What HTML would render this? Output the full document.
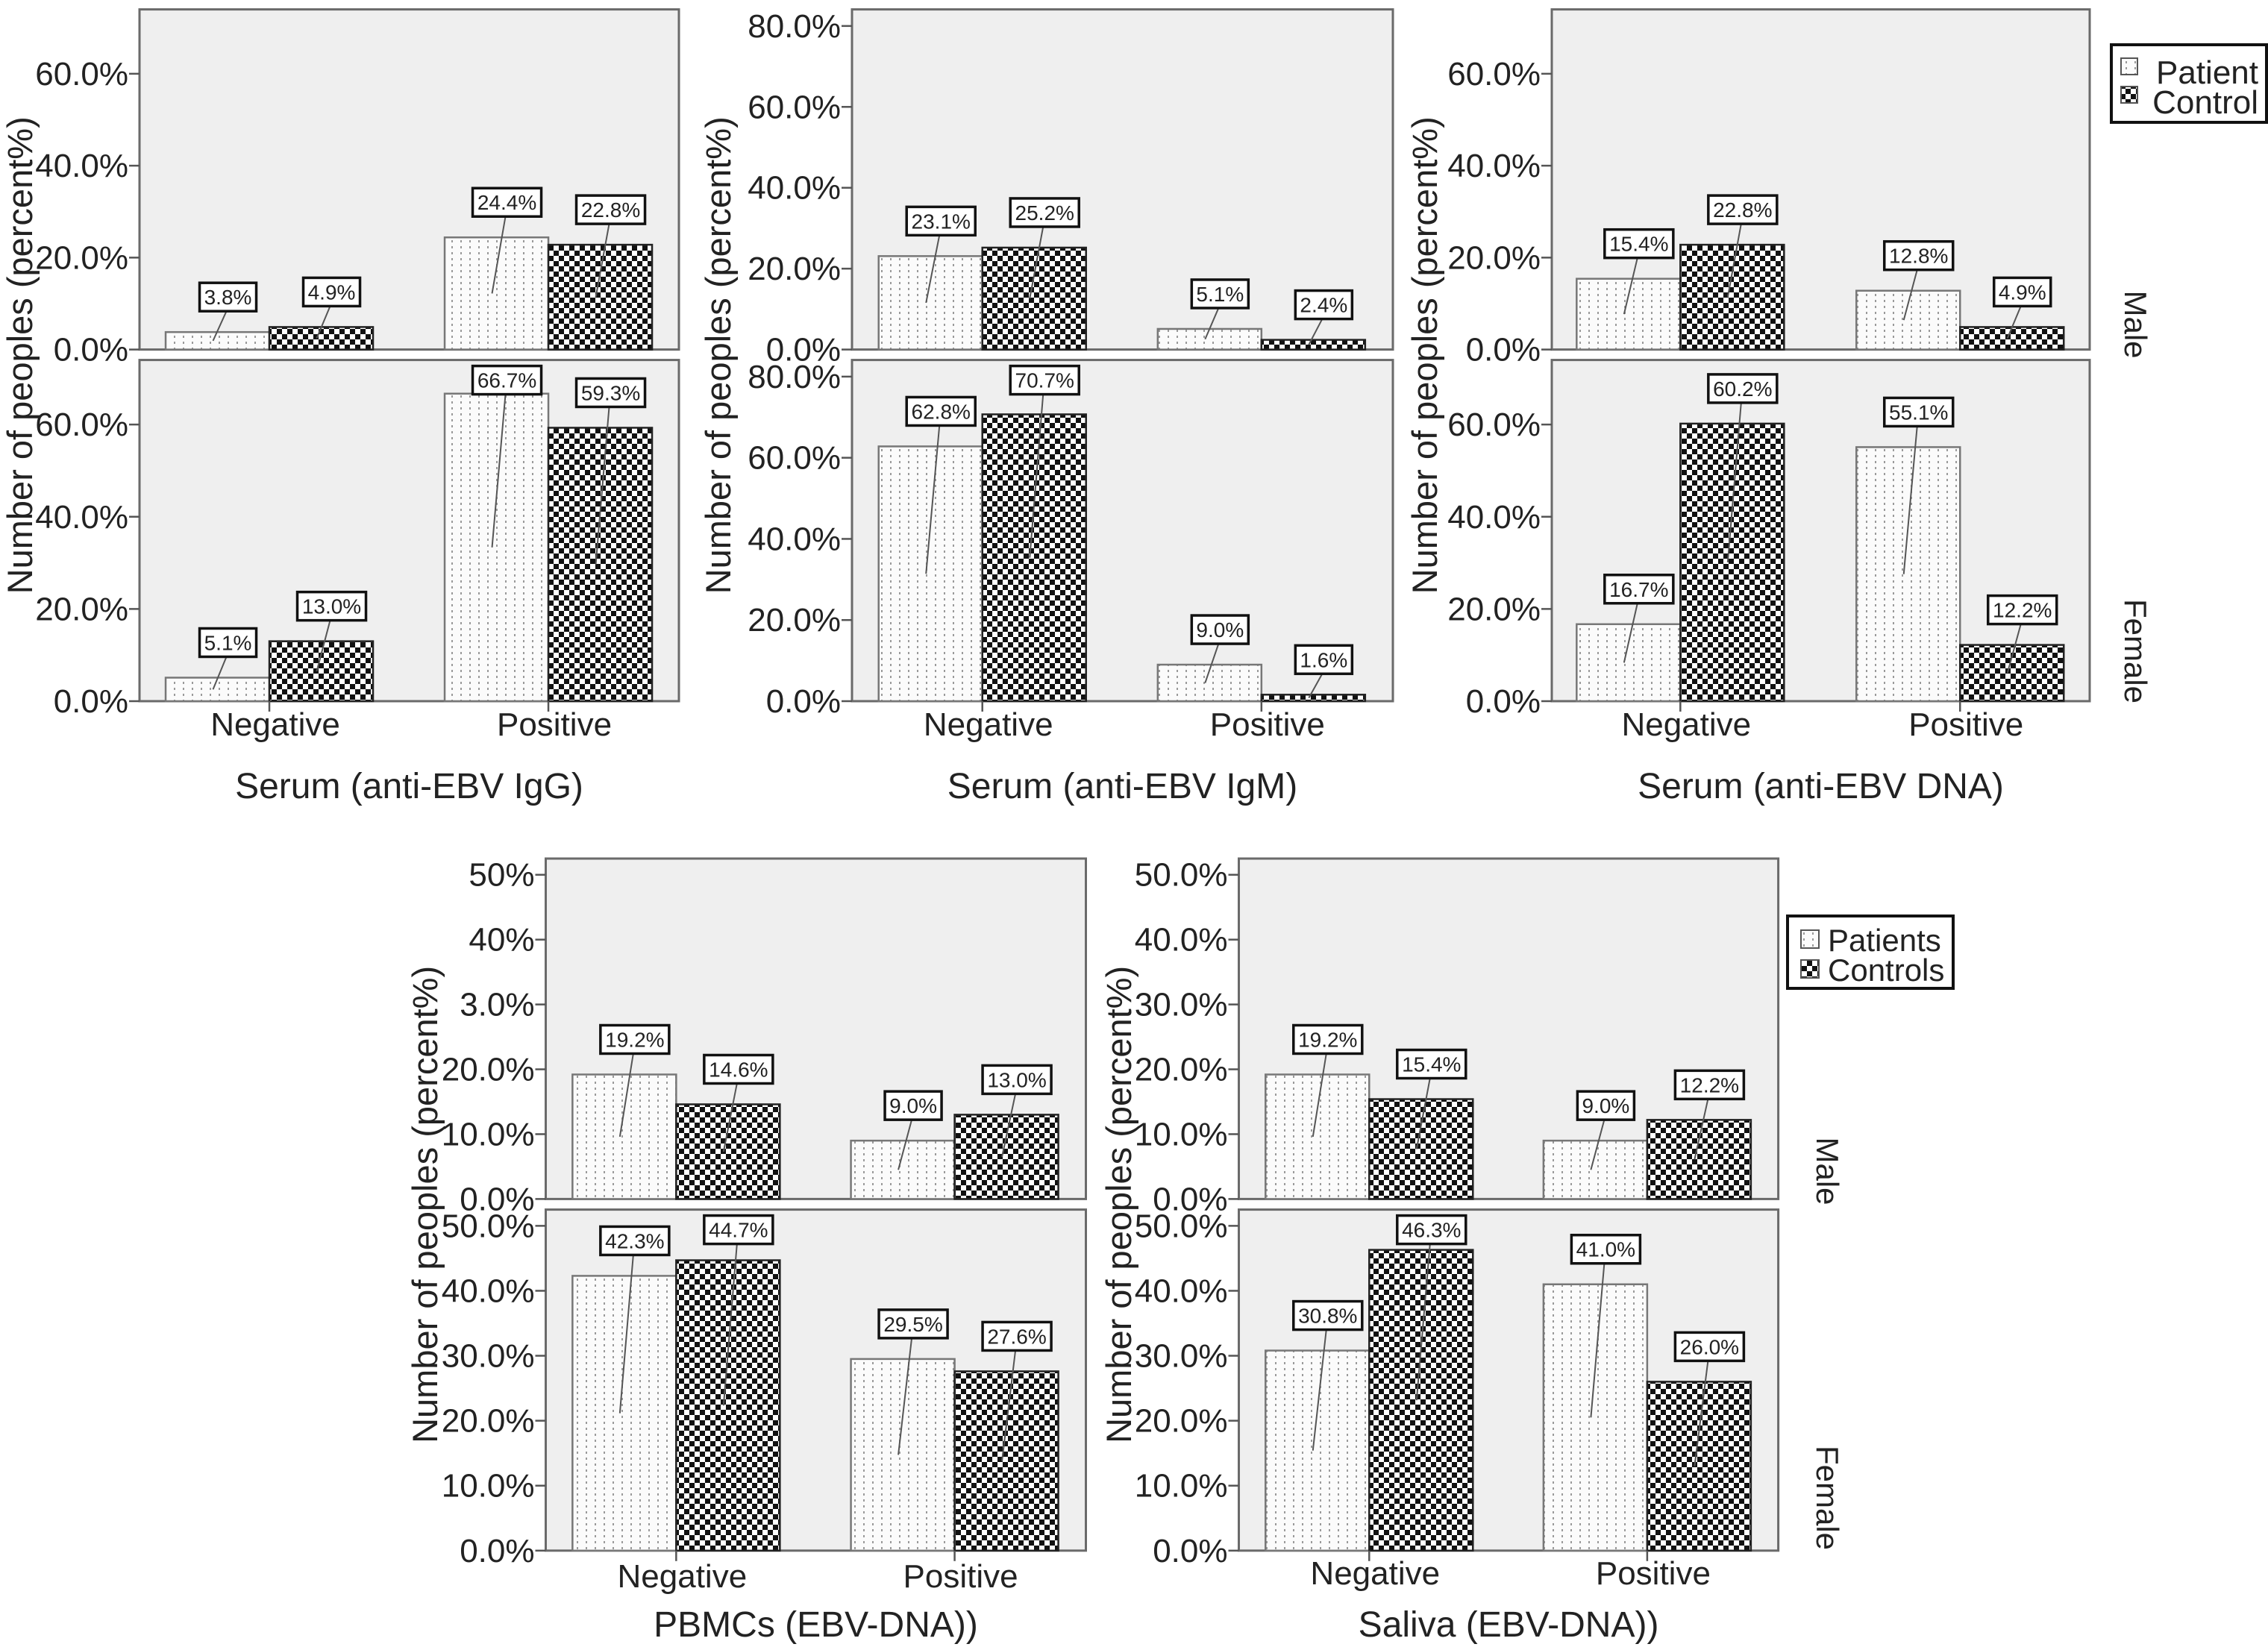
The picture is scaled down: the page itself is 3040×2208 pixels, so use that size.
<!DOCTYPE html>
<html><head><meta charset="utf-8"><style>
html,body{margin:0;padding:0;background:#fff;}
svg{display:block;font-family:"Liberation Sans",Arial,sans-serif;}
</style></head><body>
<svg id="chart" xmlns="http://www.w3.org/2000/svg" width="3040" height="2208" viewBox="0 0 3040 2208">
<defs>
<pattern id="dots" width="12" height="8" patternUnits="userSpaceOnUse">
<rect width="12" height="8" fill="#fbfbfb"/>
<rect x="5" y="2" width="2" height="3" fill="#9a9a9a"/>
</pattern>
<pattern id="checks" width="14" height="14" patternUnits="userSpaceOnUse">
<rect width="14" height="14" fill="#fff"/>
<rect width="7" height="7" fill="#111"/>
<rect x="7" y="7" width="7" height="7" fill="#111"/>
</pattern>
</defs>
<g id="root"></g>
<g>
<rect x="2830" y="60" width="208" height="104" fill="#fff" stroke="#111" stroke-width="4"/>
<rect x="2843" y="78" width="22" height="22" fill="url(#dots)" stroke="#555" stroke-width="2"/>
<rect x="2843" y="116" width="22" height="22" fill="url(#checks)" stroke="#555" stroke-width="2"/>
<text x="3027" y="112" font-size="44" text-anchor="end" fill="#222">Patient</text>
<text x="3027" y="152" font-size="44" text-anchor="end" fill="#222">Control</text>
</g>
<g>
<rect x="2396" y="1228" width="222" height="97" fill="#fff" stroke="#111" stroke-width="4"/>
<rect x="2414" y="1247" width="24" height="24" fill="url(#dots)" stroke="#555" stroke-width="2"/>
<rect x="2414" y="1287" width="24" height="24" fill="url(#checks)" stroke="#555" stroke-width="2"/>
<text x="2450" y="1275" font-size="42" fill="#222">Patients</text>
<text x="2450" y="1315" font-size="42" fill="#222">Controls</text>
</g>
</svg>
<script>
const categories = ["Negative", "Positive"];
const igg_male_patient = [3.8, 24.4];
const igg_male_control = [4.9, 22.8];
const igg_female_patient = [5.1, 66.7];
const igg_female_control = [13.0, 59.3];
const igm_male_patient = [23.1, 5.1];
const igm_male_control = [25.2, 2.4];
const igm_female_patient = [62.8, 9.0];
const igm_female_control = [70.7, 1.6];
const dna_male_patient = [15.4, 12.8];
const dna_male_control = [22.8, 4.9];
const dna_female_patient = [16.7, 55.1];
const dna_female_control = [60.2, 12.2];
const pbmc_male_patient = [19.2, 9.0];
const pbmc_male_control = [14.6, 13.0];
const pbmc_female_patient = [42.3, 29.5];
const pbmc_female_control = [44.7, 27.6];
const saliva_male_patient = [19.2, 9.0];
const saliva_male_control = [15.4, 12.2];
const saliva_female_patient = [30.8, 41.0];
const saliva_female_control = [46.3, 26.0];
const ticks_igg = [0, 20, 40, 60];
const ticklabels_igg = ["0.0%", "20.0%", "40.0%", "60.0%"];
const ticks_igm = [0, 20, 40, 60, 80];
const ticklabels_igm = ["0.0%", "20.0%", "40.0%", "60.0%", "80.0%"];
const ticks_half = [0, 10, 20, 30, 40, 50];
const ticklabels_pbmc_male = ["0.0%", "10.0%", "20.0%", "3.0%", "40%", "50%"];
const ticklabels_half = ["0.0%", "10.0%", "20.0%", "30.0%", "40.0%", "50.0%"];

const NS = "http://www.w3.org/2000/svg";
const root = document.getElementById("root");
function mk(tag, attrs, parent) {
  const e = document.createElementNS(NS, tag);
  for (const k in attrs) e.setAttribute(k, attrs[k]);
  (parent || root).appendChild(e);
  return e;
}

const panels = [
  {id:"igg", L:187, R:910, rows:[[12.6,468.6],[482.6,940]], ymax:74, ticks:[ticks_igg,ticks_igg], tl:[ticklabels_igg,ticklabels_igg],
   data:[[igg_male_patient,igg_male_control],[igg_female_patient,igg_female_control]], fr:[0.2407,0.758], bw:139,
   ytitleX:27, title:"Serum (anti-EBV IgG)", catY:986, titleY:1070, sex:null},
  {id:"igm", L:1142, R:1867, rows:[[12.6,468.6],[482.6,940]], ymax:84.1, ticks:[ticks_igm,ticks_igm], tl:[ticklabels_igm,ticklabels_igm],
   data:[[igm_male_patient,igm_male_control],[igm_female_patient,igm_female_control]], fr:[0.241,0.757], bw:139,
   ytitleX:963, title:"Serum (anti-EBV IgM)", catY:986, titleY:1070, sex:null},
  {id:"dna", L:2080, R:2801, rows:[[12.6,468.6],[482.6,940]], ymax:74, ticks:[ticks_igg,ticks_igg], tl:[ticklabels_igg,ticklabels_igg],
   data:[[dna_male_patient,dna_male_control],[dna_female_patient,dna_female_control]], fr:[0.239,0.759], bw:139,
   ytitleX:1910, title:"Serum (anti-EBV DNA)", catY:986, titleY:1070, sex:{x:2862, y:[435,873]}},
  {id:"pbmc", L:731.5, R:1455.5, rows:[[1151,1607.4],[1621.6,2078.8]], ymax:52.5, ticks:[ticks_half,ticks_half], tl:[ticklabels_pbmc_male,ticklabels_half],
   data:[[pbmc_male_patient,pbmc_male_control],[pbmc_female_patient,pbmc_female_control]], fr:[0.2415,0.757], bw:139,
   ytitleX:570, title:"PBMCs (EBV-DNA))", catY:2128, titleY:2194, sex:null},
  {id:"saliva", L:1660.5, R:2383.6, rows:[[1151,1607.4],[1621.6,2078.8]], ymax:52.5, ticks:[ticks_half,ticks_half], tl:[ticklabels_half,ticklabels_half],
   data:[[saliva_male_patient,saliva_male_control],[saliva_female_patient,saliva_female_control]], fr:[0.2417,0.757], bw:139,
   ytitleX:1500, title:"Saliva (EBV-DNA))", catY:2124, titleY:2194, sex:{x:2449, y:[1570,2008]}}
];
const sexNames = ["Male", "Female"];
const seriesNames = ["patient", "control"];

panels.forEach(p => {
  const g = mk("g", {});
  
  
  const W = p.R - p.L;
  const cx = i => p.L + W * p.fr[i];
  p.rows.forEach((row, r) => {
    const [top, bot] = row;
    const y = v => bot - (v / p.ymax) * (bot - top);
    const bg = mk("rect", {x:p.L, y:top, width:W, height:bot-top, fill:"#efefef", stroke:"#6a6a6a", "stroke-width":3}, g);
    
    
    p.ticks[r].forEach((t, k) => {
      const ty = y(t);
      mk("line", {x1:p.L-14, x2:p.L, y1:ty, y2:ty, stroke:"#555", "stroke-width":2.5}, g);
      const tx = mk("text", {x:p.L-15, y:ty+15, "font-size":44, "text-anchor":"end", fill:"#222"}, g);
      tx.textContent = p.tl[r][k];
      
      
    });
    const labels = [];
    for (let c = 0; c < categories.length; c++) {
      for (let s = 0; s < 2; s++) {
        const v = p.data[r][s][c];
        const x0 = s === 0 ? cx(c) - p.bw : cx(c);
        const yt = y(v);
        const b = mk("rect", {x:x0, y:yt, width:p.bw, height:bot-yt, fill:s===0?"url(#dots)":"url(#checks)", stroke:s===0?"#777":"#222", "stroke-width":2.5}, g);
        
        
        labels.push({v, bx:x0 + p.bw/2, yt, s});
      }
    }
    labels.forEach(l => {
      const txt = l.v.toFixed(1) + "%";
      const bw = txt.length * 16 + 12;
      const bh = 38;
      let by = l.yt - 28 - bh;
      if (by < top + 8) by = top + 8;
      const bcx = l.bx + 14;
      const mid = l.yt + (bot - l.yt) / 2;
      mk("line", {x1:bcx-2, y1:by+bh, x2:l.bx-6, y2:mid, stroke:"#555", "stroke-width":2}, g);
      const box = mk("rect", {x:bcx-bw/2, y:by, width:bw, height:bh, fill:"#fff", stroke:"#111", "stroke-width":3.5}, g);
      
      
      const t = mk("text", {x:bcx, y:by+29, "font-size":28, "text-anchor":"middle", fill:"#222"}, g);
      t.textContent = txt;
      
      
    });
    if (r === 1) {
      categories.forEach((cn, c) => {
        mk("line", {x1:cx(c), x2:cx(c), y1:bot, y2:bot+14, stroke:"#555", "stroke-width":2.5}, g);
        const t = mk("text", {x:cx(c)+8, y:p.catY, "font-size":44, "text-anchor":"middle", fill:"#222"}, g);
        t.textContent = cn;
        
        
      });
    }
    if (p.sex) {
      const sx = mk("text", {x:p.sex.x, y:p.sex.y[r], "font-size":42, "text-anchor":"middle", fill:"#222", transform:"rotate(90 " + p.sex.x + " " + p.sex.y[r] + ")", dy:14}, g);
      sx.textContent = sexNames[r];
      
      
    }
  });
  const cy = (p.rows[0][0] + p.rows[1][1]) / 2;
  const yt = mk("text", {x:p.ytitleX, y:cy, "font-size":47, "text-anchor":"middle", fill:"#222", transform:"rotate(-90 " + p.ytitleX + " " + cy + ")", dy:16}, g);
  yt.textContent = "Number of peoples (percent%)";
  
  
  const xt = mk("text", {x:(p.L+p.R)/2, y:p.titleY, "font-size":48, "text-anchor":"middle", fill:"#222"}, g);
  xt.textContent = p.title;
  
  
});
</script>
</body></html>
